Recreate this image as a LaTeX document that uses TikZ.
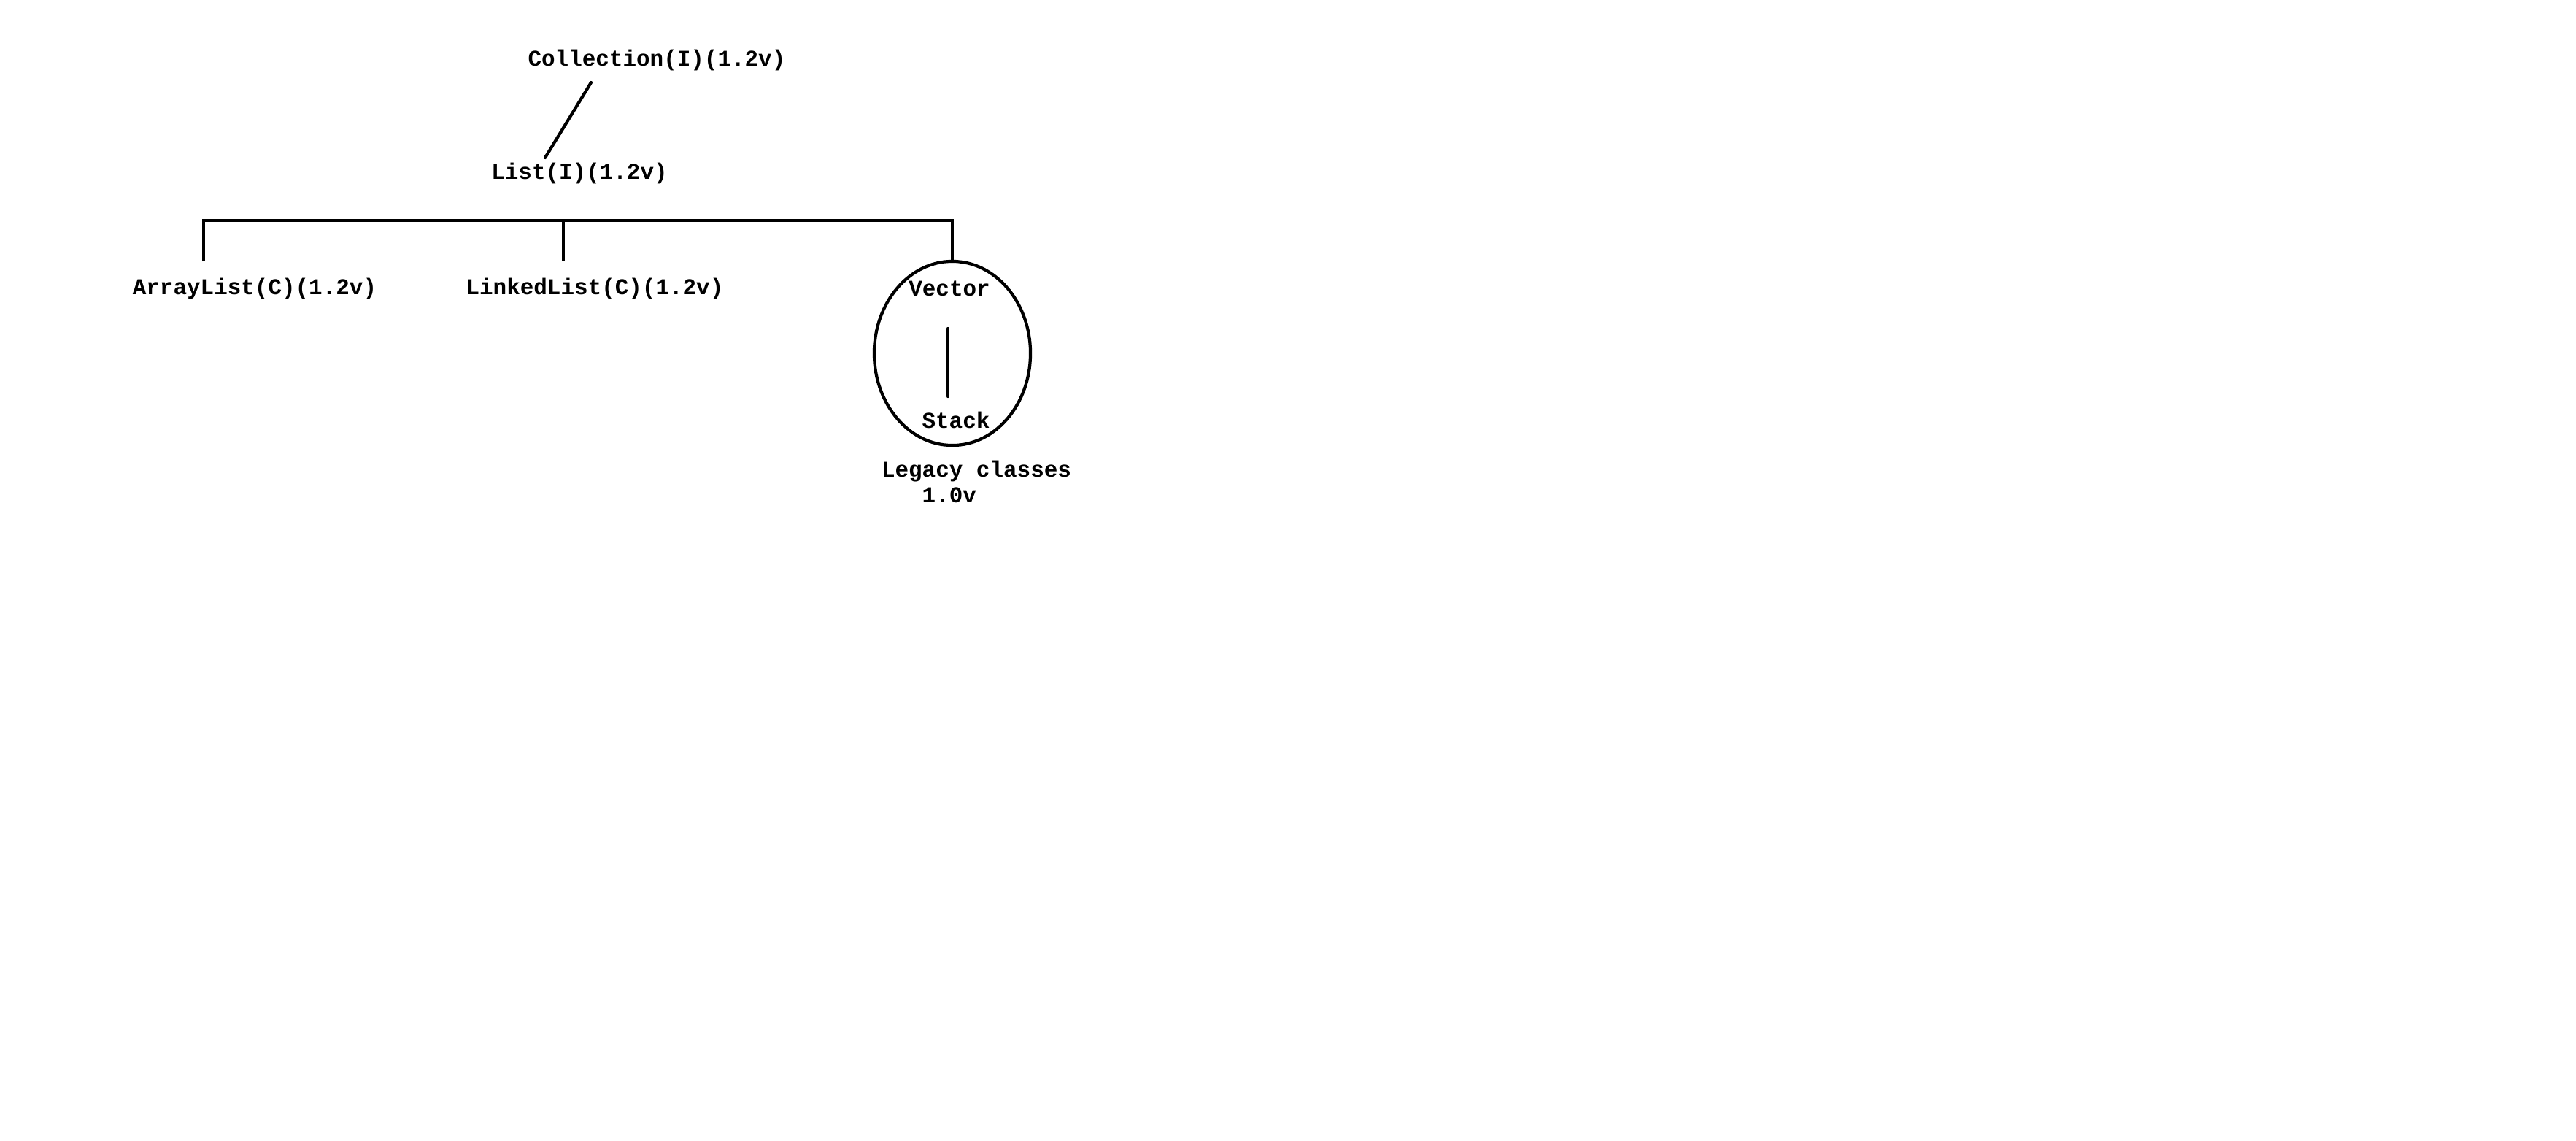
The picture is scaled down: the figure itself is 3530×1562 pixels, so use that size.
\documentclass[tikz,border=0pt]{standalone}
\usepackage{fontspec}
\setmonofont{Liberation Mono}
\usepackage{tikz}
\usetikzlibrary{shapes.geometric, positioning}

\tikzset{
  cls/.style={font=\ttfamily\bfseries\fontsize{8.8}{10.2}\selectfont, inner sep=0pt},
  link/.style={line width=1.2pt, line cap=round},
}

\begin{document}
\begin{tikzpicture}[x=0.01cm, y=-0.01cm]
  \useasboundingbox (0,0) rectangle (3530,1562);

  % interfaces
  \node[cls] (coll) at (900, 82) {Collection(I)(1.2v)};
  \node[cls] (list) at (794, 237) {List(I)(1.2v)};
  \coordinate (collbot) at (810, 113);
  \coordinate (listtop) at (747, 216);
  \draw[link] (collbot) -- (listtop);

  % implementing classes
  \node[cls] (alist) at (349, 395) {ArrayList(C)(1.2v)};
  \node[cls] (llist) at (815, 395) {LinkedList(C)(1.2v)};
  \node[cls] (vec) at (1301, 395) {Vector};

  % legacy group
  \node[draw, ellipse, line width=1.2pt, minimum width=2.14cm, minimum height=2.52cm] (legacy) at (1305, 484) {};
  \node[cls] (stk) at (1310, 575) {Stack};
  \coordinate (vecbot) at (1299, 450);
  \coordinate (stktop) at (1299, 543);
  \draw[link] (vecbot) -- (stktop);
  \node[cls, align=left] (legnote) at (1338, 663) {Legacy classes\\\phantom{Leg}1.0v};

  % tree bar
  \coordinate (barl) at (279, 302);
  \coordinate (barm) at (772, 302);
  \coordinate (barr) at (1305, 302);
  \coordinate (altop) at (279, 358);
  \coordinate (lltop) at (772, 358);
  \draw[link, line cap=butt] (altop) -- (barl) -- (barr) -- (legacy.north);
  \draw[link, line cap=butt] (barm) -- (lltop);
\end{tikzpicture}
\end{document}
